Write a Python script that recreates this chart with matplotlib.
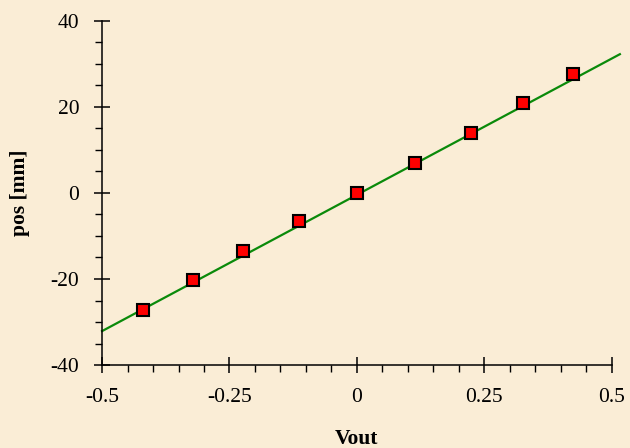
import matplotlib.pyplot as plt
from matplotlib.ticker import MultipleLocator

# ----------------------------
# Data
# ----------------------------
vout = [-0.42, -0.322, -0.2235, -0.113, 0.0, 0.1137, 0.2235, 0.3255, 0.4235]
pos = [-27.1, -20.3, -13.4, -6.6, 0.0, 6.9, 13.8, 20.8, 27.7]

# fitted line, two end points as drawn
fit_x = [-0.5, 0.516]
fit_y = [-32.1, 32.2]

xticks = [-0.5, -0.25, 0, 0.25, 0.5]
xtick_labels = ["-0.5", "-0.25", "0", "0.25", "0.5"]
yticks = [-40, -20, 0, 20, 40]

bg = "#FAEDD6"

plt.rcParams["font.family"] = ["Liberation Serif", "DejaVu Serif"]
plt.rcParams["axes.unicode_minus"] = False

fig = plt.figure(figsize=(6.3, 4.48), dpi=100, facecolor=bg)
ax = fig.add_axes([0.162, 0.185, 0.809, 0.769])
ax.set_facecolor(bg)

ax.plot(fit_x, fit_y, color="#0A8A0A", lw=1.6, clip_on=False, zorder=2)
ax.plot(vout, pos, ls="none", marker="s", ms=8, mfc="#FF0000",
        mec="black", mew=1.5, zorder=3)

ax.set_xlim(-0.5, 0.5)
ax.set_ylim(-40, 40)
ax.set_xticks(xticks)
ax.set_xticklabels(xtick_labels)
ax.set_yticks(yticks)
ax.xaxis.set_minor_locator(MultipleLocator(0.05))
ax.yaxis.set_minor_locator(MultipleLocator(5))

ax.spines["top"].set_visible(False)
ax.spines["right"].set_visible(False)
for s in ("left", "bottom"):
    ax.spines[s].set_linewidth(1.1)

ax.tick_params(which="major", direction="inout", length=11, width=1.1,
               labelsize=15.5, pad=11)
ax.tick_params(which="minor", direction="out", length=5, width=1.0)

ax.set_xlabel("Vout", fontsize=15.5, fontweight="bold", labelpad=16)
ax.set_ylabel("pos [mm]", fontsize=15.5, fontweight="bold", labelpad=15)

fig.savefig("out.png", dpi=100, facecolor=bg)
